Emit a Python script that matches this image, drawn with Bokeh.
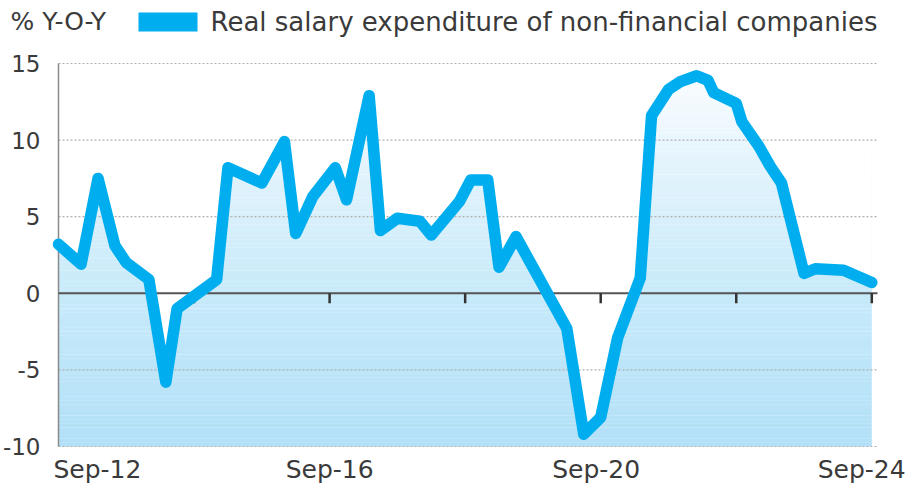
from bokeh.plotting import figure
from bokeh.models import Range1d, FixedTicker
from bokeh.core.properties import value
from bokeh.embed import file_html
from bokeh.resources import INLINE

# ---- data ----
dates = ["2012-09", "2013-01", "2013-04", "2013-07", "2013-09", "2014-01", "2014-04", "2014-06",
         "2015-01", "2015-03", "2015-09", "2016-01", "2016-03", "2016-06", "2016-10", "2016-12",
         "2017-04", "2017-06", "2017-09", "2018-01", "2018-03", "2018-08", "2018-10", "2019-01",
         "2019-03", "2019-06", "2020-03", "2020-06", "2020-09", "2020-12", "2021-04", "2021-06",
         "2021-09", "2021-11", "2022-02", "2022-04", "2022-05", "2022-09", "2022-10", "2023-01",
         "2023-03", "2023-05", "2023-09", "2023-11", "2024-04", "2024-09"]
values = [3.2, 1.9, 7.5, 3.1, 2.0, 0.9, -5.8, -1.0,
          0.9, 8.2, 7.2, 9.9, 3.9, 6.3, 8.2, 6.1,
          12.9, 4.1, 4.9, 4.7, 3.8, 6.0, 7.4, 7.4,
          1.7, 3.7, -2.3, -9.2, -8.1, -2.9, 1.0, 11.6,
          13.3, 13.8, 14.2, 13.9, 13.1, 12.4, 11.2, 9.6,
          8.3, 7.2, 1.3, 1.6, 1.5, 0.7]
y_ticks = [-10, -5, 0, 5, 10, 15]
y_tick_labels = ["-10", "-5", "0", "5", "10", "15"]
x_tick_labels = ["Sep-12", "Sep-16", "Sep-20", "Sep-24"]
x_label_pos = [6.9, 48.0, 95.2, 142.2]      # label centres (months since Sep-12)
x_tick_marks = [24, 48, 72, 96, 120, 144]   # tick marks on the zero line
series_name = "Real salary expenditure of non-financial companies"
unit_label = "% Y-O-Y"

def month_index(s):
    y, m = s.split("-")
    return (int(y) - 2012) * 12 + (int(m) - 9)

xs = [month_index(d) for d in dates]

FONT = "DejaVu Sans"
LINE_COLOR = "#00AEEF"
TEXT_COLOR = "#3a3a3a"

# ---- layout constants (pixels) ----
W = 908                 # frame width = canvas width
KX = 5.648              # px per month
X0_PX = 58              # x of month 0
RIGHT_PX = 877          # right end of the plotting area
KY = 15.32              # px per y unit
TOP_PX = 63             # y of value 15
FRAME_H = 456
x_start = -X0_PX / KX
x_end = x_start + W / KX
y_top = 15 + TOP_PX / KY
y_bot = y_top - FRAME_H / KY

def px_x(px):           # px -> months
    return (px - X0_PX) / KX

def px_y(py):           # px (from top) -> value
    return y_top - py / KY

p = figure(frame_width=W, frame_height=FRAME_H, output_backend="svg", toolbar_location=None,
           x_range=Range1d(x_start, x_end), y_range=Range1d(y_bot, y_top),
           y_axis_location=None,
           min_border_left=0, min_border_right=0, min_border_top=0, min_border_bottom=28)
p.grid.visible = False
p.outline_line_color = None
p.background_fill_color = "white"

# gradient fill under the line: horizontal bands, then white above the line
stops = [(-10, (178, 224, 247)), (0, (199, 234, 250)), (8, (226, 243, 252)), (14.5, (250, 253, 255)), (15, (252, 254, 255))]
def col_at(v):
    for (a, ca), (b, cb) in zip(stops[:-1], stops[1:]):
        if a <= v <= b:
            t = (v - a) / (b - a)
            c = [round(ca[i] + t * (cb[i] - ca[i])) for i in range(3)]
            return "#%02x%02x%02x" % tuple(c)
    return "#ffffff"

nb = 100
lo, hi = y_ticks[0], y_ticks[-1]
step = (hi - lo) / nb
bottoms = [lo + i * step for i in range(nb)]
tops = [b + step * 1.05 for b in bottoms]
cols = [col_at(b + step / 2) for b in bottoms]
p.quad(left=xs[0], right=xs[-1], bottom=bottoms, top=tops, fill_color=cols, line_color=None)
p.varea(x=xs, y1=values, y2=hi, fill_color="white")

# dotted gridlines (under the line)
grid_y = [t for t in y_ticks if t != 0]
p.segment(x0=0, x1=px_x(RIGHT_PX), y0=grid_y, y1=grid_y,
          line_color="#b0b0b0", line_width=1.2, line_dash="2 2")

# left axis line
p.segment(x0=[0], x1=[0], y0=[lo], y1=[hi], line_color="#8a8a8a", line_width=1.5)

# zero line and its tick marks
p.segment(x0=0, x1=px_x(RIGHT_PX), y0=0, y1=0, line_color="#555555", line_width=2)
p.segment(x0=x_tick_marks, x1=x_tick_marks, y0=0, y1=-0.65, line_color="#333333", line_width=2.5)

# series line
p.line(xs, values, line_color=LINE_COLOR, line_width=11.5, line_join="round", line_cap="round")

# y tick labels
p.text(x=[px_x(40)] * len(y_ticks), y=y_ticks, text=y_tick_labels,
       text_align="right", text_baseline="middle",
       text_font=value(FONT), text_font_size="23px", text_color=TEXT_COLOR)

# x axis (labels only)
p.xaxis.ticker = FixedTicker(ticks=x_label_pos)
p.xaxis.major_label_overrides = {pos: lab for pos, lab in zip(x_label_pos, x_tick_labels)}
p.xaxis.axis_line_color = None
p.xaxis.major_tick_line_color = None
p.xaxis.minor_tick_line_color = None
p.xaxis.major_label_standoff = -8
p.xaxis.major_label_text_font = FONT
p.xaxis.major_label_text_font_size = "25px"
p.xaxis.major_label_text_color = TEXT_COLOR

# header: unit label and legend
p.text(x=[px_x(10)], y=[px_y(21)], text=[unit_label], text_baseline="middle", text_align="left",
       text_font=value(FONT), text_font_size="25px", text_color=TEXT_COLOR)
p.quad(left=[px_x(138)], right=[px_x(197)], bottom=[px_y(31)], top=[px_y(12)],
       fill_color=LINE_COLOR, line_color=None)
p.text(x=[px_x(210)], y=[px_y(21)], text=[series_name], text_baseline="middle", text_align="left",
       text_font=value(FONT), text_font_size="26px", text_color=TEXT_COLOR)

open("out.html", "w").write(file_html(p, INLINE))
